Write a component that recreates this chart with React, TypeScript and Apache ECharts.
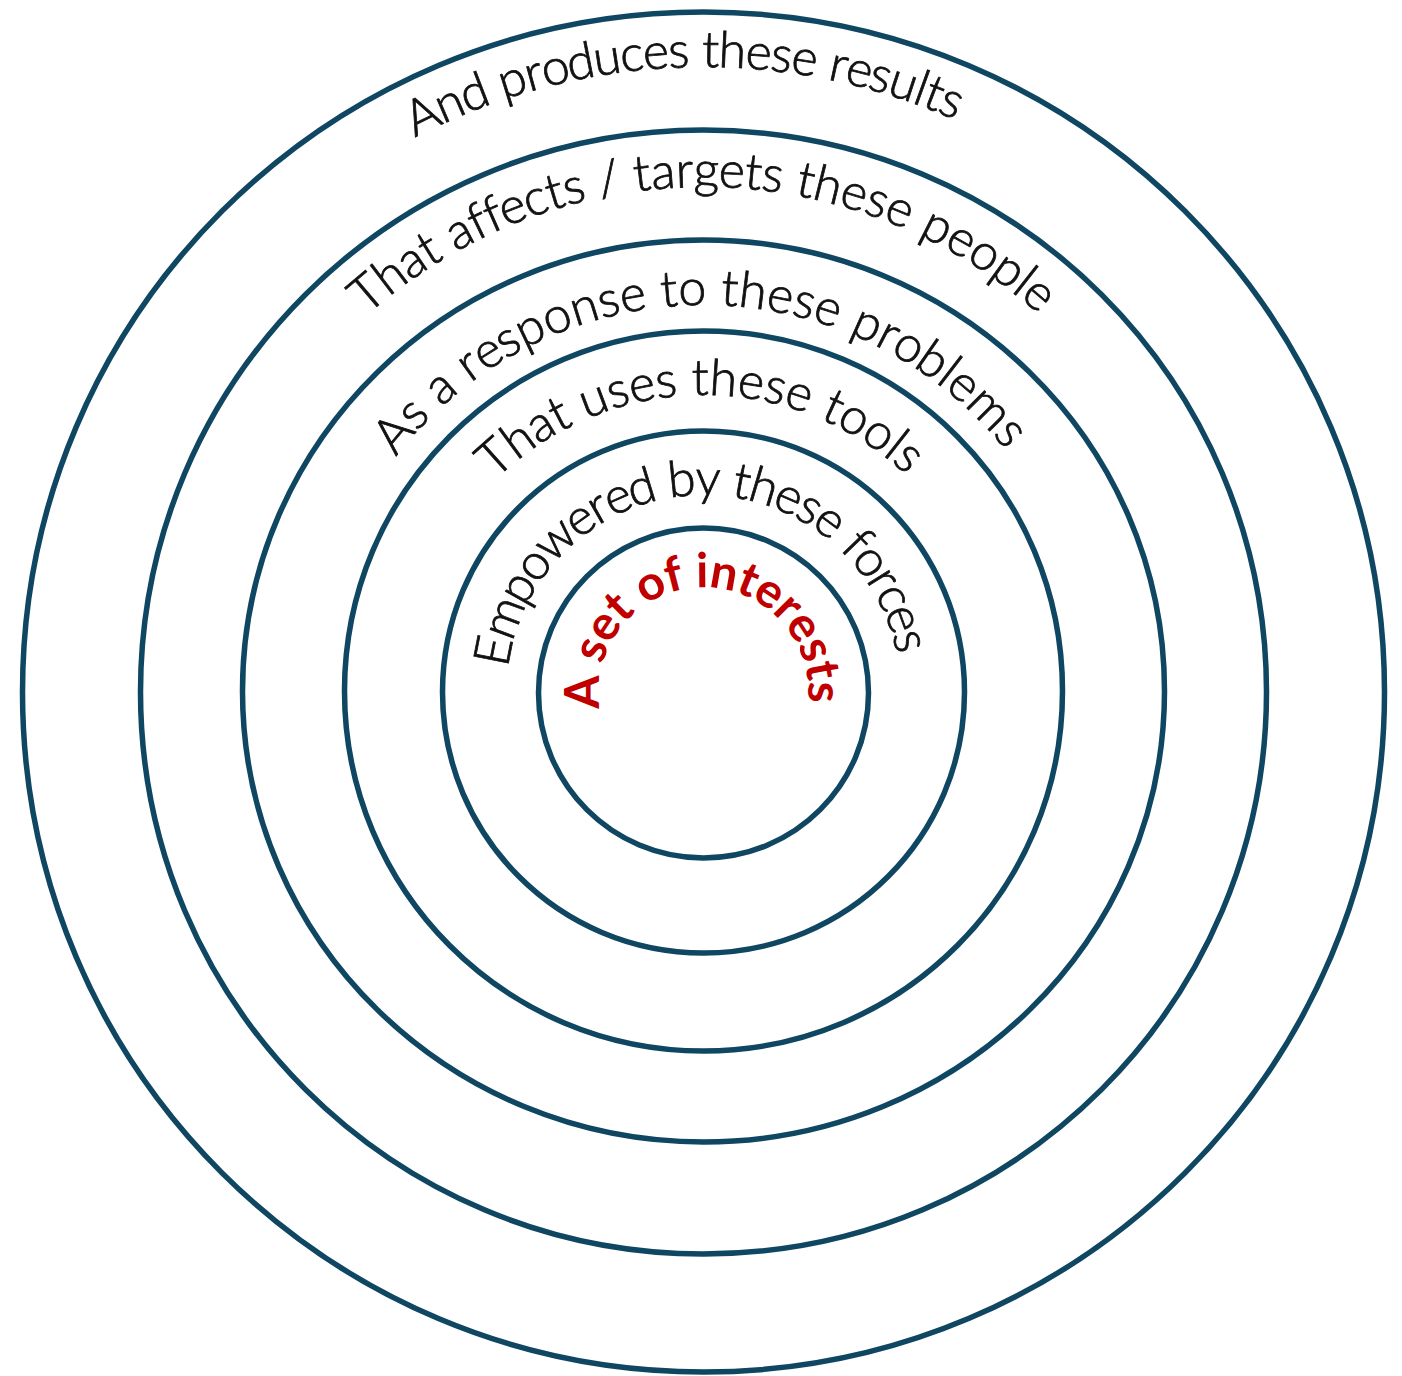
import React, { useEffect, useRef } from "react";
import * as echarts from "echarts";

// ---- data ----
// ring radii (horizontal, vertical)
const ringRadiiX = [681, 563, 461, 359, 261, 165];
const ringRadiiY = [680, 562, 451, 360, 261, 165];
const ringCentersY = [692, 692, 691, 691, 692, 693];
const labels = [
  "And produces these results",
  "That affects / targets these people",
  "As a response to these problems",
  "That uses these tools",
  "Empowered by these forces",
  "A set of interests",
];
const baselineRadii = [627, 507, 389, 299, 199, 107];
// angle between the centres of the first and last characters
const spanDegrees = [48.8, 80.3, 100, 82.8, 155, 180];
const centerOffsetDegrees = [-1.6, 0, -0.2, -0.3, -1.4, 0];
const labelFontSizes = [50, 50, 50, 50, 50, 48];
const labelWeights = [300, 300, 300, 300, 300, 700];
const labelColors = ["#111111", "#111111", "#111111", "#111111", "#111111", "#C00000"];

const CX = 703.5;
const CY = 692;
const FONT = "Lato, 'Open Sans', sans-serif";
const RING_COLOR = "#0F4661";

function arcLabel(
  text: string,
  rb: number,
  spanDeg: number,
  offDeg: number,
  fs: number,
  weight: number,
  color: string
) {
  const canvas = document.createElement("canvas");
  const ctx = canvas.getContext("2d") as CanvasRenderingContext2D;
  ctx.font = `${weight} ${fs}px ${FONT}`;
  const mids: number[] = [];
  for (let i = 0; i < text.length; i++) {
    const before = ctx.measureText(text.slice(0, i)).width;
    const w = ctx.measureText(text[i]).width;
    mids.push(before + w / 2);
  }
  const m0 = mids[0];
  const m1 = mids[mids.length - 1];
  const spanRad = (spanDeg * Math.PI) / 180;
  const off = (offDeg * Math.PI) / 180;
  const rC = rb + 0.34 * fs;
  const els: any[] = [];
  for (let i = 0; i < text.length; i++) {
    const ch = text[i];
    if (ch === " ") continue;
    const theta = ((mids[i] - (m0 + m1) / 2) / (m1 - m0)) * spanRad + off;
    els.push({
      type: "text",
      x: CX + rC * Math.sin(theta),
      y: CY - rC * Math.cos(theta),
      rotation: -theta,
      z: 10,
      style: {
        text: ch,
        fill: color,
        stroke: weight < 500 ? color : "none",
        lineWidth: weight < 500 ? 0.8 : 0,
        fontSize: fs,
        fontFamily: FONT,
        fontWeight: weight,
        align: "center",
        verticalAlign: "middle",
      },
    });
  }
  return els;
}

export default function App() {
  const ref = useRef<HTMLDivElement>(null);
  useEffect(() => {
    document.body.style.margin = "0";
    if (!ref.current) return;
    const chart = echarts.init(ref.current, undefined, { renderer: "svg" });
    const elements: any[] = [];
    ringRadiiX.forEach((rx, i) => {
      elements.push({
        type: "ellipse",
        shape: { cx: CX, cy: ringCentersY[i], rx, ry: ringRadiiY[i] },
        z: 1,
        style: { fill: "none", stroke: RING_COLOR, lineWidth: 5.5 },
      });
    });
    labels.forEach((t, i) => {
      elements.push(
        ...arcLabel(
          t,
          baselineRadii[i],
          spanDegrees[i],
          centerOffsetDegrees[i],
          labelFontSizes[i],
          labelWeights[i],
          labelColors[i]
        )
      );
    });
    chart.setOption({
      animation: false,
      backgroundColor: "#ffffff",
      graphic: { elements },
    });
    return () => chart.dispose();
  }, []);
  return <div ref={ref} style={{ width: 1402, height: 1376 }} />;
}
